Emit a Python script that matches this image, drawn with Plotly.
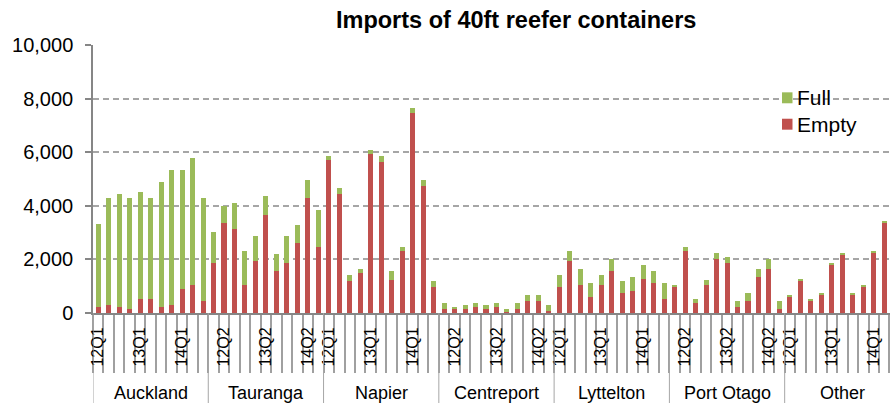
import plotly.graph_objects as go

# ---------------- data ----------------
ports = ["Auckland", "Tauranga", "Napier", "Centreport", "Lyttelton", "Port Otago", "Other"]
quarters = ["12Q1", "12Q2", "12Q3", "12Q4", "13Q1", "13Q2", "13Q3", "13Q4", "14Q1", "14Q2", "14Q3"]
series_names = ["Full", "Empty"]

empty_auckland = [210, 290, 210, 140, 510, 510, 210, 290, 880, 1030, 440]
full_auckland = [3120, 4010, 4240, 4160, 4010, 3790, 4680, 5050, 4460, 4760, 3860]

empty_tauranga = [1850, 3340, 3120, 1030, 1930, 3640, 1550, 1850, 2600, 4300, 2450]
full_tauranga = [1190, 670, 970, 1270, 960, 740, 670, 1040, 670, 670, 1410]

empty_napier = [5710, 4450, 1180, 1480, 5940, 5640, 1250, 2300, 7480, 4740, 960]
full_napier = [150, 220, 240, 160, 150, 220, 300, 160, 170, 230, 220]

empty_centreport = [140, 140, 140, 210, 140, 210, 50, 150, 450, 450, 75]
full_centreport = [230, 80, 160, 160, 160, 160, 110, 235, 230, 230, 235]

empty_lyttelton = [970, 1940, 1040, 600, 1040, 1570, 750, 820, 1270, 1120, 520]
full_lyttelton = [450, 370, 600, 520, 380, 440, 440, 520, 520, 450, 600]

empty_otago = [970, 2310, 370, 1040, 2010, 1860, 220, 450, 1340, 1640, 150]
full_otago = [70, 150, 160, 180, 240, 240, 240, 310, 310, 370, 310]

empty_other = [600, 1190, 450, 670, 1790, 2160, 670, 970, 2240, 3350, None]
full_other = [80, 90, 80, 90, 90, 90, 90, 90, 70, 80, None]

empty_by_port = [empty_auckland, empty_tauranga, empty_napier, empty_centreport,
                 empty_lyttelton, empty_otago, empty_other]
full_by_port = [full_auckland, full_tauranga, full_napier, full_centreport,
                full_lyttelton, full_otago, full_other]

# ---------------- build category positions ----------------
nq = len(quarters)
xs, empty_vals, full_vals = [], [], []
for p, port in enumerate(ports):
    for q in range(nq):
        xs.append(p * nq + q)
        empty_vals.append(empty_by_port[p][q])
        full_vals.append(full_by_port[p][q])

# quarter labels shown (every 4th, alternating start per port as in the source)
tickvals, ticktext = [], []
for p in range(len(ports)):
    start = p % 2
    for q in range(start, nq, 4):
        tickvals.append(p * nq + q)
        ticktext.append(quarters[q])

boundaries = [i - 0.5 for i in range(len(ports) * nq + 1)]
group_edges = [p * nq - 0.5 for p in range(len(ports) + 1)]

RED = "#C0504D"
GREEN = "#9BBB59"
FONT = "Liberation Sans, Arial, sans-serif"

# plot-area geometry (pixels) for placing the legend
W, H = 890, 403
ML, MR, MT, MB = 93, 0, 44.5, 89.5
PW, PH = W - ML - MR, H - MT - MB


def px_x(px):
    return (px - ML) / PW


def px_y(py):
    return 1 - (py - MT) / PH


fig = go.Figure()
fig.add_trace(go.Bar(x=xs, y=empty_vals, name="Empty", showlegend=False,
                     marker=dict(color=RED, line=dict(width=0))))
fig.add_trace(go.Bar(x=xs, y=full_vals, name="Full", showlegend=False,
                     marker=dict(color=GREEN, line=dict(width=0))))

shapes = []
for e in group_edges:
    shapes.append(dict(type="line", xref="x", yref="paper", x0=e, x1=e, y0=0, y1=-0.34,
                       line=dict(color="#A6A6A6", width=1)))

annotations = []
for p, port in enumerate(ports):
    annotations.append(dict(text=port, xref="x", yref="paper",
                            x=(p * nq - 0.5 + (p + 1) * nq - 0.5) / 2, y=-0.30,
                            xanchor="center", yanchor="middle", showarrow=False,
                            font=dict(size=18, color="#000000", family=FONT)))

# manual legend (Full above Empty)
legend_colors = {"Full": GREEN, "Empty": RED}
for i, name in enumerate(series_names):
    cy = 97.5 + i * 26.5
    shapes.append(dict(type="rect", xref="paper", yref="paper",
                       x0=px_x(782), x1=px_x(792.5), y0=px_y(cy - 5.5), y1=px_y(cy + 5.5),
                       fillcolor=legend_colors[name], line=dict(width=0)))
    annotations.append(dict(text=name, xref="paper", yref="paper", x=px_x(794.5), y=px_y(cy),
                            xanchor="left", yanchor="middle", showarrow=False,
                            font=dict(size=21, color="#000000", family=FONT)))

fig.update_layout(
    width=W, height=H,
    margin=dict(l=ML, r=MR, t=MT, b=MB),
    paper_bgcolor="white", plot_bgcolor="white",
    barmode="stack", bargap=0.52, showlegend=False,
    font=dict(family=FONT, color="#000000"),
    title=dict(text="<b>Imports of 40ft reefer containers</b>", xref="container", x=0.58,
               xanchor="center", yref="container", y=0.95, yanchor="middle",
               font=dict(size=23.5, family=FONT, color="#000000")),
    shapes=shapes,
    annotations=annotations,
)

fig.update_yaxes(range=[0, 10000], dtick=2000, tickformat=",", showgrid=True,
                 gridcolor="#A6A6A6", griddash="6px,4px", gridwidth=1.5,
                 showline=True, linecolor="#868686", linewidth=1.5,
                 ticks="outside", ticklen=6, tickcolor="#868686", tickwidth=1.5,
                 tickfont=dict(size=20, family=FONT), zeroline=False, ticklabelstandoff=8)

fig.update_xaxes(range=[-0.5, 75.55], tickmode="array", tickvals=tickvals, ticktext=ticktext,
                 tickangle=-90, ticks="", tickfont=dict(size=16, family=FONT),
                 showline=True, linecolor="#868686", linewidth=2, showgrid=False, zeroline=False,
                 ticklabelstandoff=6,
                 minor=dict(tickmode="array", tickvals=boundaries, ticks="outside", ticklen=58,
                            tickcolor="#A0A0A0", tickwidth=2, showgrid=False))

fig.write_html("out.html")
